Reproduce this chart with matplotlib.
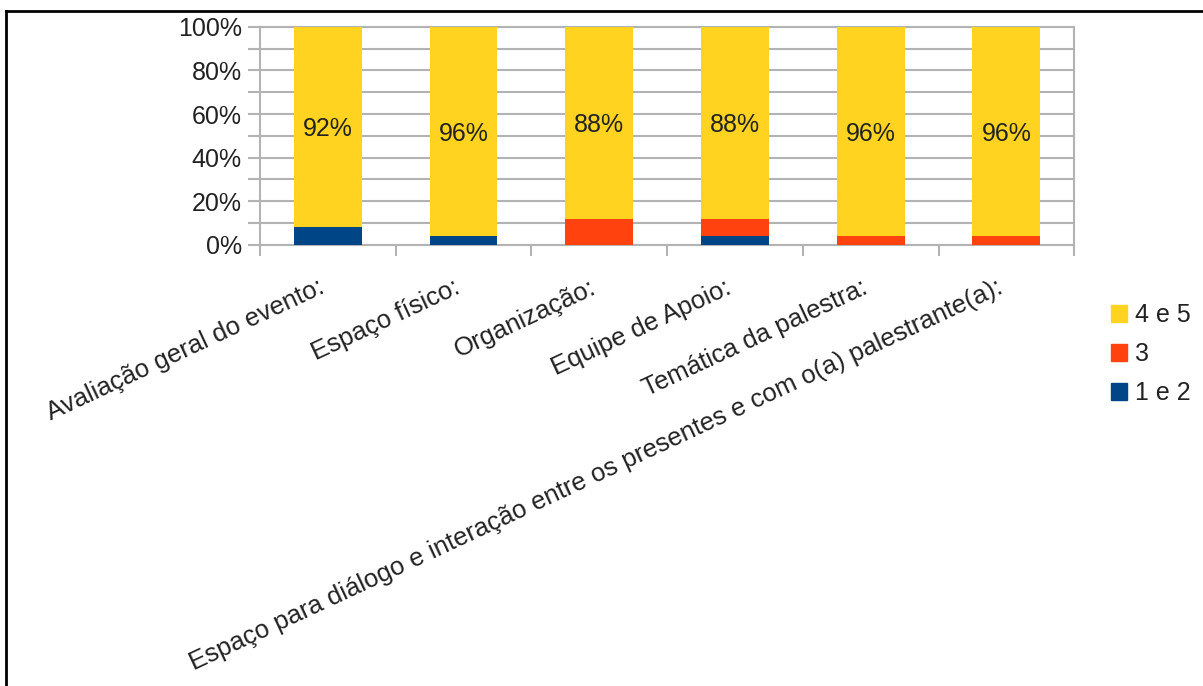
import matplotlib.pyplot as plt
import numpy as np
import matplotlib.transforms as mtransforms
from matplotlib.lines import Line2D
from matplotlib.patches import Patch

plt.rcParams['font.family'] = ['Liberation Sans', 'DejaVu Sans']

# dados (fração de respostas por categoria)
categorias = ['Avaliação geral do evento:', 'Espaço físico:', 'Organização:',
              'Equipe de Apoio:', 'Temática da palestra:',
              'Espaço para diálogo e interação entre os presentes e com o(a) palestrante(a):']
nota_1e2 = [0.08, 0.04, 0.00, 0.04, 0.00, 0.00]
nota_3 = [0.00, 0.00, 0.12, 0.08, 0.04, 0.04]
nota_4e5 = [0.92, 0.96, 0.88, 0.88, 0.96, 0.96]

cor_azul = '#004586'
cor_laranja = '#ff420e'
cor_amarelo = '#ffd320'
cinza = '#b3b3b3'
texto = '#222222'

fig = plt.figure(figsize=(12.03, 6.86), dpi=100)
ax = fig.add_axes([0.216, 0.643, 0.677, 0.318])

x = np.arange(len(categorias))
b1 = np.array(nota_1e2)
b2 = np.array(nota_3)
b3 = np.array(nota_4e5)
ax.bar(x, b1, width=0.5, color=cor_azul, zorder=3)
ax.bar(x, b2, width=0.5, bottom=b1, color=cor_laranja, zorder=3)
ax.bar(x, b3, width=0.5, bottom=b1 + b2, color=cor_amarelo, zorder=3)

for i in range(len(x)):
    ax.text(x[i], b1[i] + b2[i] + b3[i] / 2 - 0.01, '%d%%' % round(b3[i] * 100),
            ha='center', va='center', fontsize=18, color=texto, zorder=4)

ax.set_xlim(-0.5, len(categorias) - 0.5)
ax.set_ylim(0, 1)

ax.set_yticks(np.arange(0, 1.01, 0.2))
ax.set_yticklabels(['0%', '20%', '40%', '60%', '80%', '100%'], fontsize=18, color=texto)
ax.set_yticks(np.arange(0.1, 1.0, 0.2), minor=True)
ax.tick_params(axis='y', which='both', length=9, width=1.5, color=cinza, pad=4)
ax.grid(axis='y', which='both', color=cinza, linewidth=1.5, zorder=0)

ax.set_xticks(x)
ax.set_xticklabels(categorias, rotation=25, ha='right', rotation_mode='anchor',
                   fontsize=18.5, color=texto)
ax.set_xticks(np.arange(-0.5, len(categorias), 1), minor=True)
ax.tick_params(axis='x', which='major', length=0, pad=22)
ax.tick_params(axis='x', which='minor', length=8, width=1.5, color=cinza)
# desloca os rótulos um pouco para a esquerda
desloc = mtransforms.ScaledTranslation(-10 / 100, 0, fig.dpi_scale_trans)
for lab in ax.get_xticklabels():
    lab.set_transform(lab.get_transform() + desloc)

for s in ax.spines.values():
    s.set_color(cinza)
    s.set_linewidth(1.5)

handles = [Patch(color=cor_amarelo), Patch(color=cor_laranja), Patch(color=cor_azul)]
fig.legend(handles, ['4 e 5', '3', '1 e 2'], loc='center left',
           bbox_to_anchor=(0.905, 0.484), frameon=False, fontsize=18,
           handlelength=0.65, handleheight=0.65, handletextpad=0.3,
           labelspacing=0.6, labelcolor=texto)

# moldura
fig.add_artist(Line2D([0.005, 1.0], [0.984, 0.984], color='black', lw=2))
fig.add_artist(Line2D([0.005, 0.005], [0.0, 0.984], color='black', lw=2))

fig.savefig('out.png', dpi=100)
